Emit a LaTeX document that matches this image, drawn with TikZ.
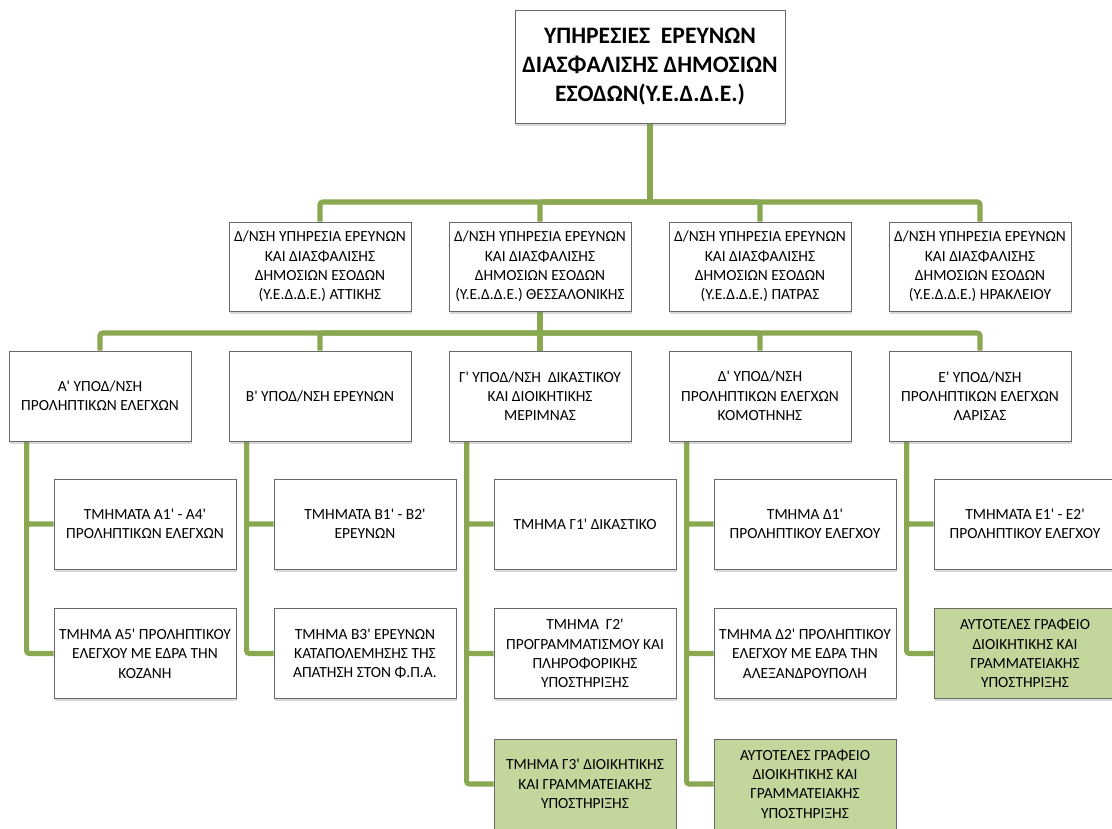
\documentclass[tikz,border=0pt]{standalone}
\usepackage{fontspec}
\newfontfamily\orgfont{Carlito}[Ligatures=TeXOff]
\usepackage{xcolor}
\usetikzlibrary{shadows,backgrounds}
\definecolor{branchgreen}{RGB}{138,168,80}
\definecolor{boxgreen}{RGB}{195,214,155}
\definecolor{boxgray}{RGB}{105,105,105}

\begin{document}
\begin{tikzpicture}[x=0.75pt,y=-0.75pt,
        unit/.style={draw=boxgray,line width=0.6pt,fill=white,align=center,inner sep=1pt,
            font=\orgfont\fontsize{11.6}{14.5}\selectfont,minimum width=136.5pt,minimum height=67.5pt,
            drop shadow={opacity=0.3,shadow xshift=1pt,shadow yshift=-2pt}},
        office/.style={unit,fill=boxgreen},
        conn/.style={draw=branchgreen,line width=3.8pt,rounded corners=2pt}]
        \useasboundingbox (0,0) rectangle (1112,828);
        \node[unit,minimum width=202.5pt,minimum height=84.75pt,font=\orgfont\bfseries\fontsize{17.7}{21.5}\selectfont] (head) at (650,66.5) {ΥΠΗΡΕΣΙΕΣ~~ΕΡΕΥΝΩΝ\\ΔΙΑΣΦΑΛΙΣΗΣ ΔΗΜΟΣΙΩΝ\\ΕΣΟΔΩΝ(Υ.Ε.Δ.Δ.Ε.)};
        \node[unit,minimum height=66.75pt] (att) at (320,266.5) {Δ/ΝΣΗ ΥΠΗΡΕΣΙΑ ΕΡΕΥΝΩΝ\\ΚΑΙ ΔΙΑΣΦΑΛΙΣΗΣ\\ΔΗΜΟΣΙΩΝ ΕΣΟΔΩΝ\\(Υ.Ε.Δ.Δ.Ε.) ΑΤΤΙΚΗΣ};
        \node[unit,minimum height=66.75pt] (the) at (540,266.5) {Δ/ΝΣΗ ΥΠΗΡΕΣΙΑ ΕΡΕΥΝΩΝ\\ΚΑΙ ΔΙΑΣΦΑΛΙΣΗΣ\\ΔΗΜΟΣΙΩΝ ΕΣΟΔΩΝ\\(Υ.Ε.Δ.Δ.Ε.) ΘΕΣΣΑΛΟΝΙΚΗΣ};
        \node[unit,minimum height=66.75pt] (pat) at (760,266.5) {Δ/ΝΣΗ ΥΠΗΡΕΣΙΑ ΕΡΕΥΝΩΝ\\ΚΑΙ ΔΙΑΣΦΑΛΙΣΗΣ\\ΔΗΜΟΣΙΩΝ ΕΣΟΔΩΝ\\(Υ.Ε.Δ.Δ.Ε.) ΠΑΤΡΑΣ};
        \node[unit,minimum height=66.75pt] (her) at (980,266.5) {Δ/ΝΣΗ ΥΠΗΡΕΣΙΑ ΕΡΕΥΝΩΝ\\ΚΑΙ ΔΙΑΣΦΑΛΙΣΗΣ\\ΔΗΜΟΣΙΩΝ ΕΣΟΔΩΝ\\(Υ.Ε.Δ.Δ.Ε.) ΗΡΑΚΛΕΙΟΥ};
        \node[unit] (subA) at (100,396) {Α' ΥΠΟΔ/ΝΣΗ\\ΠΡΟΛΗΠΤΙΚΩΝ ΕΛΕΓΧΩΝ};
        \node[unit] (subB) at (320,396) {Β' ΥΠΟΔ/ΝΣΗ ΕΡΕΥΝΩΝ};
        \node[unit] (subG) at (540,396) {Γ' ΥΠΟΔ/ΝΣΗ~~ΔΙΚΑΣΤΙΚΟΥ\\ΚΑΙ ΔΙΟΙΚΗΤΙΚΗΣ\\ΜΕΡΙΜΝΑΣ};
        \node[unit] (subD) at (760,396) {Δ' ΥΠΟΔ/ΝΣΗ\\ΠΡΟΛΗΠΤΙΚΩΝ ΕΛΕΓΧΩΝ\\ΚΟΜΟΤΗΝΗΣ};
        \node[unit] (subE) at (980,396) {Ε' ΥΠΟΔ/ΝΣΗ\\ΠΡΟΛΗΠΤΙΚΩΝ ΕΛΕΓΧΩΝ\\ΛΑΡΙΣΑΣ};
        \node[unit] (depA1) at (145,524) {ΤΜΗΜΑΤΑ Α1' - Α4'\\ΠΡΟΛΗΠΤΙΚΩΝ ΕΛΕΓΧΩΝ};
        \node[unit] (depA5) at (145,653.5) {ΤΜΗΜΑ Α5' ΠΡΟΛΗΠΤΙΚΟΥ\\ΕΛΕΓΧΟΥ ΜΕ ΕΔΡΑ ΤΗΝ\\ΚΟΖΑΝΗ};
        \node[unit] (depB1) at (365,524) {ΤΜΗΜΑΤΑ Β1' - Β2'\\ΕΡΕΥΝΩΝ};
        \node[unit] (depB3) at (365,653.5) {ΤΜΗΜΑ Β3' ΕΡΕΥΝΩΝ\\ΚΑΤΑΠΟΛΕΜΗΣΗΣ ΤΗΣ\\ΑΠΑΤΗΣΗ ΣΤΟΝ Φ.Π.Α.};
        \node[unit] (depG1) at (585,524) {ΤΜΗΜΑ Γ1' ΔΙΚΑΣΤΙΚΟ};
        \node[unit] (depG2) at (585,653.5) {ΤΜΗΜΑ~~Γ2'\\ΠΡΟΓΡΑΜΜΑΤΙΣΜΟΥ ΚΑΙ\\ΠΛΗΡΟΦΟΡΙΚΗΣ\\ΥΠΟΣΤΗΡΙΞΗΣ};
        \node[office] (depG3) at (585,784) {ΤΜΗΜΑ Γ3' ΔΙΟΙΚΗΤΙΚΗΣ\\ΚΑΙ ΓΡΑΜΜΑΤΕΙΑΚΗΣ\\ΥΠΟΣΤΗΡΙΞΗΣ};
        \node[unit] (depD1) at (805,524) {ΤΜΗΜΑ Δ1'\\ΠΡΟΛΗΠΤΙΚΟΥ ΕΛΕΓΧΟΥ};
        \node[unit] (depD2) at (805,653.5) {ΤΜΗΜΑ Δ2' ΠΡΟΛΗΠΤΙΚΟΥ\\ΕΛΕΓΧΟΥ ΜΕ ΕΔΡΑ ΤΗΝ\\ΑΛΕΞΑΝΔΡΟΥΠΟΛΗ};
        \node[office] (offD) at (805,784) {ΑΥΤΟΤΕΛΕΣ ΓΡΑΦΕΙΟ\\ΔΙΟΙΚΗΤΙΚΗΣ ΚΑΙ\\ΓΡΑΜΜΑΤΕΙΑΚΗΣ\\ΥΠΟΣΤΗΡΙΞΗΣ};
        \node[unit] (depE1) at (1025,524) {ΤΜΗΜΑΤΑ Ε1' - Ε2'\\ΠΡΟΛΗΠΤΙΚΟΥ ΕΛΕΓΧΟΥ};
        \node[office] (offE) at (1025,653.5) {ΑΥΤΟΤΕΛΕΣ ΓΡΑΦΕΙΟ\\ΔΙΟΙΚΗΤΙΚΗΣ ΚΑΙ\\ΓΡΑΜΜΑΤΕΙΑΚΗΣ\\ΥΠΟΣΤΗΡΙΞΗΣ};
        \begin{scope}[on background layer]
            \coordinate (bus1) at (650,202);
            \coordinate (bus2) at (540,333);
            \draw[conn] (head) -- (bus1);
            \foreach \n in {att,the,pat,her}
                \draw[conn] (bus1) -| (\n.north);
            \draw[conn] (the) -- (bus2);
            \foreach \n in {subA,subB,subG,subD,subE}
                \draw[conn] (bus2) -| (\n.north);
            \draw[conn] (subA.south west) ++(18,0) |- (depA5.west);
            \draw[conn] (subA.south west) ++(18,0) |- (depA1.west);
            \draw[conn] (subB.south west) ++(18,0) |- (depB3.west);
            \draw[conn] (subB.south west) ++(18,0) |- (depB1.west);
            \draw[conn] (subG.south west) ++(18,0) |- (depG3.west);
            \draw[conn] (subG.south west) ++(18,0) |- (depG2.west);
            \draw[conn] (subG.south west) ++(18,0) |- (depG1.west);
            \draw[conn] (subD.south west) ++(18,0) |- (offD.west);
            \draw[conn] (subD.south west) ++(18,0) |- (depD2.west);
            \draw[conn] (subD.south west) ++(18,0) |- (depD1.west);
            \draw[conn] (subE.south west) ++(18,0) |- (offE.west);
            \draw[conn] (subE.south west) ++(18,0) |- (depE1.west);
        \end{scope}
\end{tikzpicture}
\end{document}
